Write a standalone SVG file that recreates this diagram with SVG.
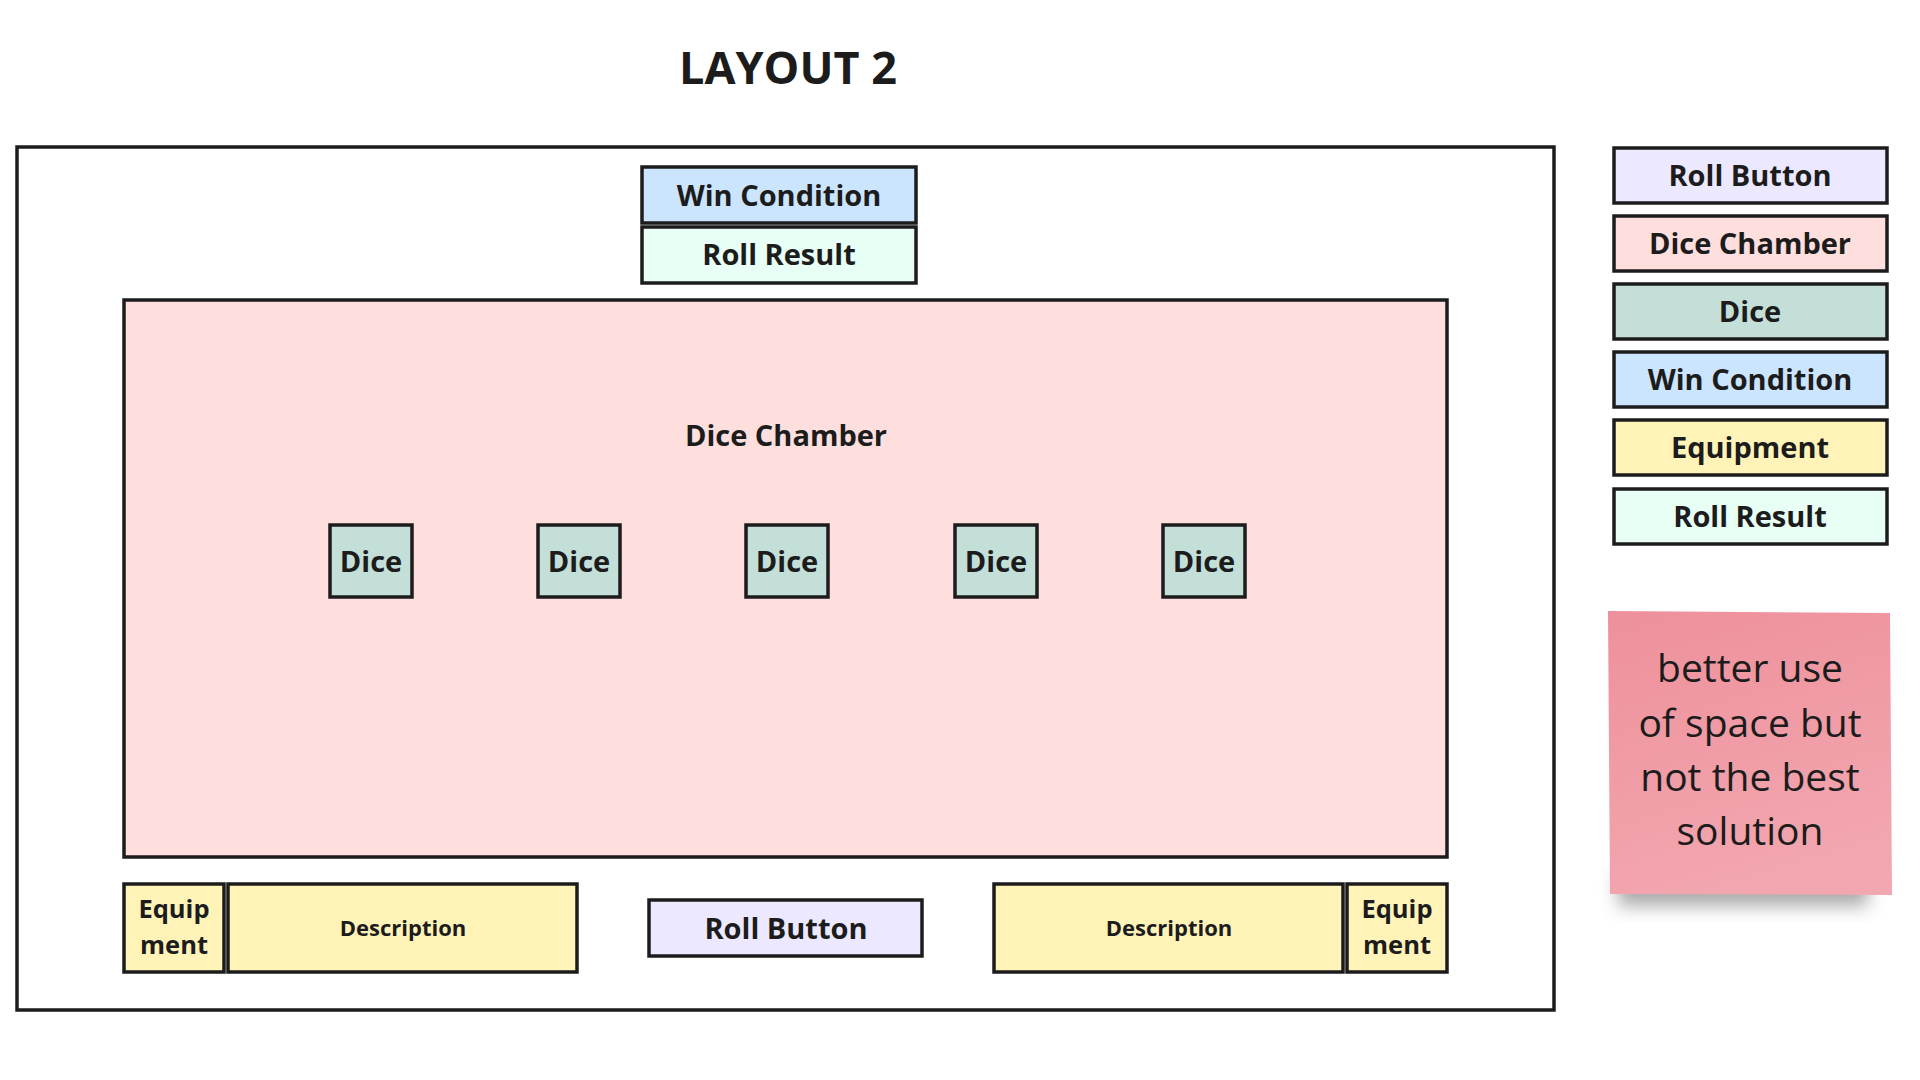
<svg xmlns="http://www.w3.org/2000/svg" width="1920" height="1080" viewBox="0 0 1920 1080">
<defs>
<style>
.b{stroke:#1c1c1c;stroke-width:3.5}
.t{font-family:"Open Sans","Noto Sans",sans-serif;font-weight:700;fill:#1c1c1c;text-anchor:middle}
.lg{font-size:29px}
.win{fill:#cce5ff}.res{fill:#e8fff6}.btn{fill:#ece8ff}.ch{fill:#ffdfde}.dice{fill:#c3dfd8}.eq{fill:#fff3b8}
</style>
<linearGradient id="sg" x1="0" y1="0" x2="0.3" y2="1">
<stop offset="0" stop-color="#ee909b"/>
<stop offset="1" stop-color="#f2a6af"/>
</linearGradient>
<filter id="blur" x="-20%" y="-50%" width="140%" height="200%"><feGaussianBlur stdDeviation="9"/></filter>
</defs>
<rect width="1920" height="1080" fill="#ffffff"/>
<text class="t" x="788" y="84" style="font-size:45px">LAYOUT 2</text>

<g id="frame"><rect class="b" x="17" y="147" width="1537" height="863" fill="#ffffff"/></g>

<g id="win-condition"><rect class="b win" x="642" y="167" width="274" height="56"/><text class="t lg" x="779" y="206">Win Condition</text></g>
<g id="roll-result"><rect class="b res" x="642" y="227" width="274" height="56"/><text class="t lg" x="779" y="265">Roll Result</text></g>

<g id="dice-chamber"><rect class="b ch" x="124" y="300" width="1323" height="557"/><text class="t" x="786" y="446" style="font-size:29px">Dice Chamber</text></g>

<g id="dice-1"><rect class="b dice" x="330" y="525" width="82" height="72"/><text class="t lg" x="371" y="572">Dice</text></g>
<g id="dice-2"><rect class="b dice" x="538" y="525" width="82" height="72"/><text class="t lg" x="579" y="572">Dice</text></g>
<g id="dice-3"><rect class="b dice" x="746" y="525" width="82" height="72"/><text class="t lg" x="787" y="572">Dice</text></g>
<g id="dice-4"><rect class="b dice" x="955" y="525" width="82" height="72"/><text class="t lg" x="996" y="572">Dice</text></g>
<g id="dice-5"><rect class="b dice" x="1163" y="525" width="82" height="72"/><text class="t lg" x="1204" y="572">Dice</text></g>

<g id="equip-left"><rect class="b eq" x="124" y="884" width="100" height="88"/><text class="t" x="174" y="918" style="font-size:25.5px">Equip</text><text class="t" x="174" y="954" style="font-size:25.5px">ment</text></g>
<g id="desc-left"><rect class="b eq" x="228" y="884" width="349" height="88"/><text class="t" x="403" y="936" style="font-size:22px">Description</text></g>
<g id="roll-button"><rect class="b btn" x="649" y="900" width="273" height="56"/><text class="t lg" x="786" y="939">Roll Button</text></g>
<g id="desc-right"><rect class="b eq" x="994" y="884" width="349" height="88"/><text class="t" x="1169" y="936" style="font-size:22px">Description</text></g>
<g id="equip-right"><rect class="b eq" x="1347" y="884" width="100" height="88"/><text class="t" x="1397" y="918" style="font-size:25.5px">Equip</text><text class="t" x="1397" y="954" style="font-size:25.5px">ment</text></g>

<g id="legend">
<g id="legend-roll-button"><rect class="b btn" x="1614" y="148" width="273" height="55"/><text class="t lg" x="1750" y="186">Roll Button</text></g>
<g id="legend-dice-chamber"><rect class="b ch" x="1614" y="216" width="273" height="55"/><text class="t lg" x="1750" y="254">Dice Chamber</text></g>
<g id="legend-dice"><rect class="b dice" x="1614" y="284" width="273" height="55"/><text class="t lg" x="1750" y="322">Dice</text></g>
<g id="legend-win-condition"><rect class="b win" x="1614" y="352" width="273" height="55"/><text class="t lg" x="1750" y="390">Win Condition</text></g>
<g id="legend-equipment"><rect class="b eq" x="1614" y="420" width="273" height="55"/><text class="t lg" x="1750" y="458">Equipment</text></g>
<g id="legend-roll-result"><rect class="b res" x="1614" y="489" width="273" height="55"/><text class="t lg" x="1750" y="527">Roll Result</text></g>
</g>

<g id="sticky-note">
<rect x="1618" y="872" width="250" height="34" fill="#555" opacity="0.5" filter="url(#blur)"/>
<path d="M1608 611 L1890 613 L1892 895 L1610 894 Z" fill="url(#sg)"/>
<g class="t" style="font-weight:400;font-size:39px">
<text x="1750" y="682">better use</text>
<text x="1750" y="737">of space but</text>
<text x="1750" y="791">not the best</text>
<text x="1750" y="845">solution</text>
</g>
</g>
</svg>
